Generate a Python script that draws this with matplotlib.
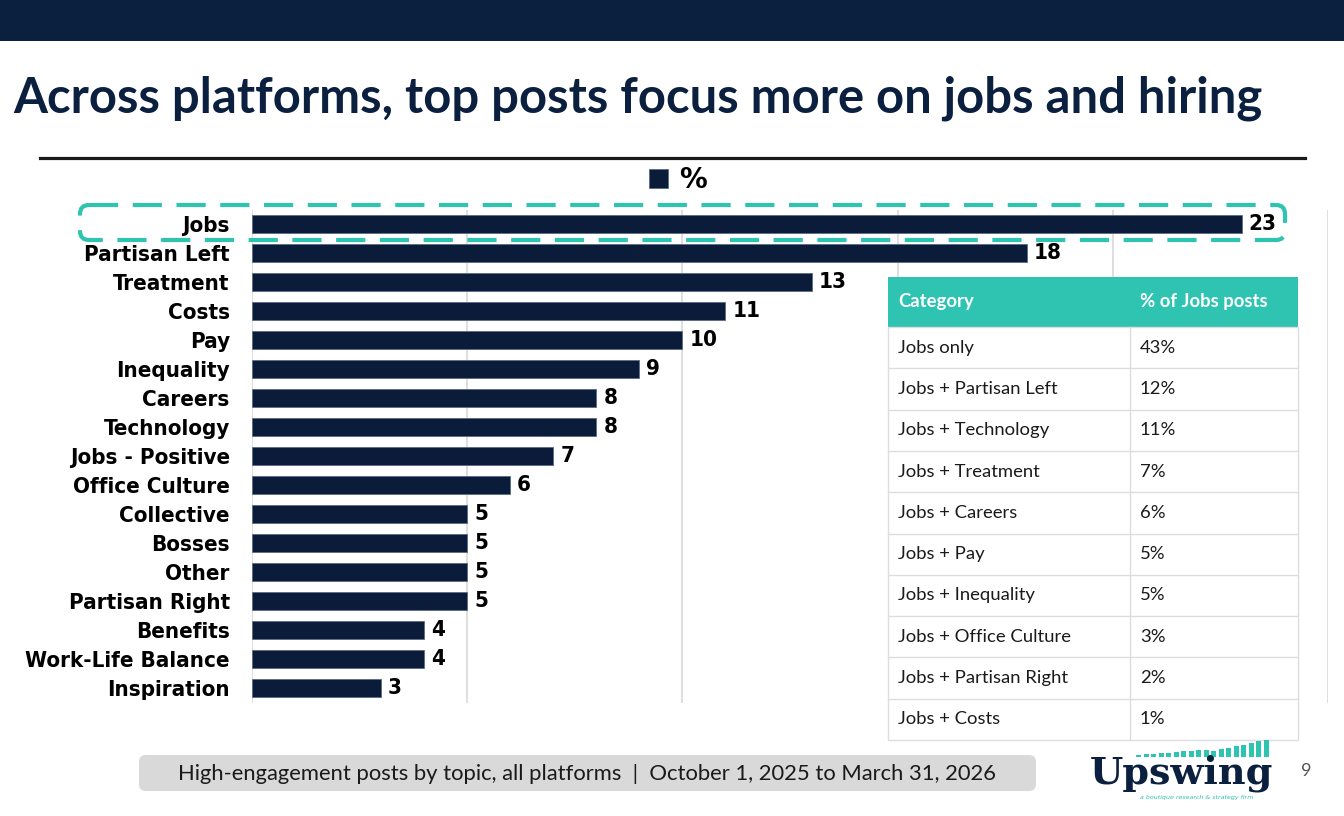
import matplotlib
matplotlib.use("Agg")
import matplotlib.pyplot as plt
from matplotlib.patches import Rectangle, FancyBboxPatch
from matplotlib.lines import Line2D

# Chart data
topics = [
    "Jobs", "Partisan Left", "Treatment", "Costs", "Pay", "Inequality",
    "Careers", "Technology", "Jobs - Positive", "Office Culture", "Collective",
    "Bosses", "Other", "Partisan Right", "Benefits", "Work-Life Balance",
    "Inspiration",
]
shares = [23, 18, 13, 11, 10, 9, 8, 8, 7, 6, 5, 5, 5, 5, 4, 4, 3]

# Side table data
table_header = ["Category", "% of Jobs posts"]
table_categories = [
    "Jobs only", "Jobs + Partisan Left", "Jobs + Technology", "Jobs + Treatment",
    "Jobs + Careers", "Jobs + Pay", "Jobs + Inequality", "Jobs + Office Culture",
    "Jobs + Partisan Right", "Jobs + Costs",
]
table_values = ["43%", "12%", "11%", "7%", "6%", "5%", "5%", "3%", "2%", "1%"]

title = "Across platforms, top posts focus more on jobs and hiring"
footer = "High-engagement posts by topic, all platforms  |  October 1, 2025 to March 31, 2026"

NAVY = "#0B1F3F"
BAR = "#0A1C3A"
TEAL = "#2FC3B2"
GRID = "#D9D9D9"
W, H = 1344, 816


def px_rect(x0, y0, x1, y1):
    """Pixel box (top-left origin) -> figure fraction rect."""
    return [x0 / W, 1 - y1 / H, (x1 - x0) / W, (y1 - y0) / H]


fig = plt.figure(figsize=(W / 100, H / 100), dpi=100)

# --- bar chart ---
ax = fig.add_axes(px_rect(252, 209.5, 1328, 702.5))
ypos = list(range(len(topics)))
ax.barh(ypos, shares, height=0.65, color=BAR, edgecolor="#5B6B86",
        linewidth=0.6, zorder=2, label="%")
ax.set_xlim(0, 25)
ax.set_ylim(len(topics) - 0.5, -0.5)
ax.set_xticks([0, 5, 10, 15, 20, 25])
ax.set_xticklabels([])
ax.grid(axis="x", color=GRID, linewidth=1.2, zorder=0)
ax.tick_params(length=0, pad=16)
ax.set_yticks(ypos)
ax.set_yticklabels(topics, fontsize=16, fontweight="bold",
                   fontfamily="DejaVu Sans", fontstretch="condensed")
for s in ax.spines.values():
    s.set_visible(False)
for y, v in zip(ypos, shares):
    ax.annotate(str(v), (v, y), xytext=(5, 0), textcoords="offset points",
                ha="left", va="center", fontsize=16, fontweight="bold",
                fontfamily="DejaVu Sans", fontstretch="condensed")

fig.legend(loc="center", bbox_to_anchor=(678 / W, 1 - 180 / H), frameon=False,
           handlelength=0.7, handleheight=0.7, handletextpad=0.4,
           prop={"weight": "bold", "size": 20, "family": "DejaVu Sans"})

# --- overlay in pixel coordinates ---
ov = fig.add_axes([0, 0, 1, 1])
ov.set_xlim(0, W)
ov.set_ylim(H, 0)
ov.axis("off")

ov.add_patch(Rectangle((0, 0), W, 41, color=NAVY, lw=0))
ov.text(13, 98, title, fontsize=35.3, fontweight="bold", fontfamily="Lato",
        color=NAVY, va="center", ha="left")
ov.add_line(Line2D([40, 1305], [158, 158], color="#1A1A1A", lw=2.3))

# dashed highlight around the top bar
ov.add_patch(FancyBboxPatch((80, 205), 1205, 35,
                            boxstyle="round,pad=0,rounding_size=9",
                            fill=False, ec=TEAL, lw=3, ls=(0, (7, 3.5))))

# side table
tx0, tx1, tx2 = 888, 1130, 1298
hy0, hy1 = 277, 327
row_h = (740 - hy1) / len(table_categories)
ov.add_patch(Rectangle((tx0, hy0), tx2 - tx0, hy1 - hy0, color=TEAL, lw=0))
ov.text(tx0 + 10, (hy0 + hy1) / 2, table_header[0], color="white",
        fontsize=13.3, fontweight="bold", fontfamily="Lato", va="center")
ov.text(tx1 + 10, (hy0 + hy1) / 2, table_header[1], color="white",
        fontsize=13.3, fontweight="bold", fontfamily="Lato", va="center")
ov.add_patch(Rectangle((tx0, hy1), tx2 - tx0, 740 - hy1, fc="white",
                       ec="#DDDDDD", lw=1))
for i, (cat, val) in enumerate(zip(table_categories, table_values)):
    top = hy1 + i * row_h
    if i > 0:
        ov.add_line(Line2D([tx0, tx2], [top, top], color="#DDDDDD", lw=1))
    ov.text(tx0 + 10, top + row_h / 2, cat, fontsize=13.3, fontfamily="Lato",
            color="#1A1A1A", va="center")
    ov.text(tx1 + 10, top + row_h / 2, val, fontsize=13.3, fontfamily="Lato",
            color="#1A1A1A", va="center")
ov.add_line(Line2D([tx1, tx1], [hy1, 740], color="#DDDDDD", lw=1))

# footer
ov.add_patch(FancyBboxPatch((139, 755), 897, 36,
                            boxstyle="round,pad=0,rounding_size=7",
                            fc="#D9D9D9", ec="none"))
ov.text(587, 774, footer, fontsize=15.8, fontfamily="Lato", color="#1A1A1A",
        ha="center", va="center")

# logo
ov.text(1181, 783, "Upswing", fontsize=27.5, fontweight="bold",
        fontfamily="DejaVu Serif", color=NAVY, ha="center", va="baseline")
n_marks = 18
for k in range(n_marks):
    x = 1136 + k * 7.5
    h = 2 + k * 0.6 if k < 10 else 6 + (k - 10) * 1.6
    ov.add_patch(Rectangle((x, 757 - h), 5, h, color=TEAL, lw=0))
ov.text(1197, 797, "a boutique research & strategy firm", fontsize=4.5,
        style="italic", color=TEAL, ha="center", va="center")
ov.text(1306, 771, "9", fontsize=13, fontfamily="Lato", color="#555555",
        ha="center", va="center")

fig.savefig("out.png", dpi=100)
